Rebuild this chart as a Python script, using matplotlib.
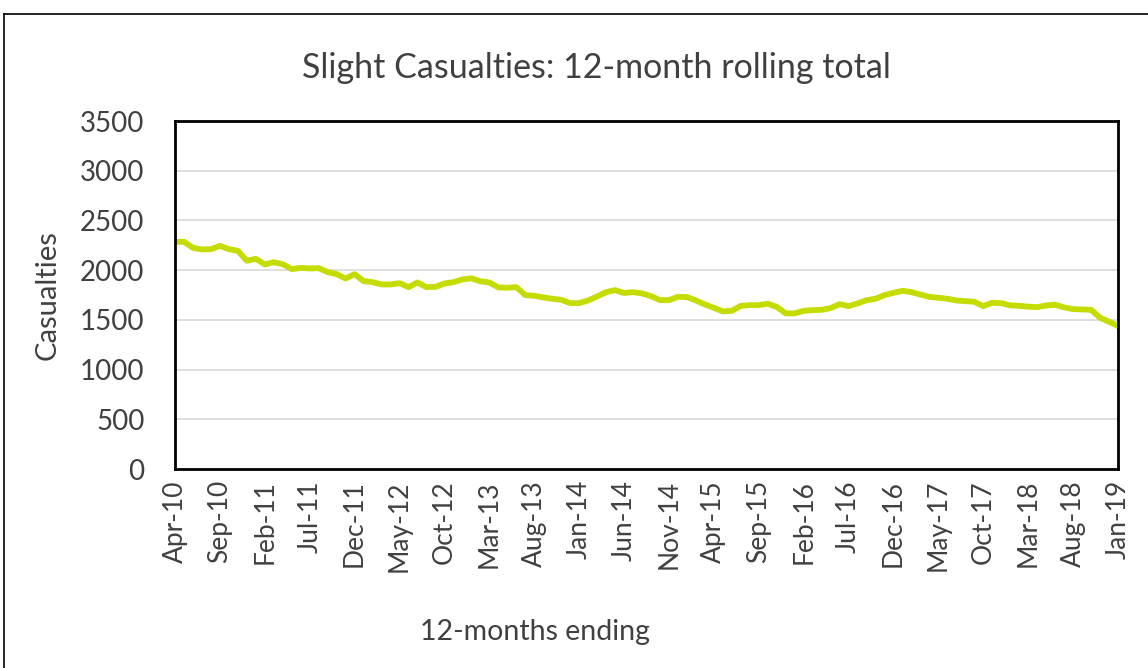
import numpy as np
import matplotlib
matplotlib.use('Agg')
import matplotlib.pyplot as plt
from matplotlib.lines import Line2D

plt.rcParams['font.family'] = ['Lato', 'DejaVu Sans']

# 12-month rolling totals, monthly from Apr-10 to Jan-19
casualties = [
    2285, 2285, 2224, 2208, 2211, 2244, 2211, 2194, 2094, 2114,
    2057, 2080, 2060, 2010, 2023, 2017, 2020, 1980, 1960, 1916,
    1960, 1889, 1879, 1856, 1856, 1869, 1829, 1876, 1829, 1832,
    1866, 1879, 1906, 1918, 1888, 1876, 1826, 1823, 1829, 1749,
    1742, 1726, 1712, 1702, 1668, 1668, 1695, 1735, 1779, 1799,
    1770, 1779, 1766, 1739, 1698, 1698, 1732, 1729, 1695, 1655,
    1621, 1585, 1591, 1641, 1648, 1648, 1662, 1630, 1565, 1565,
    1591, 1598, 1601, 1618, 1658, 1638, 1665, 1698, 1712, 1749,
    1772, 1792, 1779, 1754, 1731, 1722, 1712, 1695, 1688, 1682,
    1638, 1672, 1668, 1645, 1642, 1632, 1628, 1645, 1652, 1625,
    1608, 1605, 1601, 1521, 1481, 1437,
]
tick_labels = ['Apr-10', 'Sep-10', 'Feb-11', 'Jul-11', 'Dec-11', 'May-12',
               'Oct-12', 'Mar-13', 'Aug-13', 'Jan-14', 'Jun-14', 'Nov-14',
               'Apr-15', 'Sep-15', 'Feb-16', 'Jul-16', 'Dec-16', 'May-17',
               'Oct-17', 'Mar-18', 'Aug-18', 'Jan-19']

txt = '#404040'
x = np.arange(len(casualties))

fig = plt.figure(figsize=(11.48, 6.68), dpi=100)
ax = fig.add_axes([175/1148, 1 - 469/668, (1118 - 175)/1148, (469 - 121)/668])

ax.plot(x, casualties, color='#C5DC00', lw=4.2, solid_joinstyle='round')

ax.set_xlim(0, len(casualties) - 1)
ax.set_ylim(0, 3500)
ax.set_yticks(np.arange(0, 3501, 500))
ax.set_xticks(x[::5])
ax.set_xticklabels(tick_labels, rotation=90, fontsize=19, color=txt)
ax.tick_params(axis='y', labelsize=20, labelcolor=txt, length=0, pad=22)
ax.tick_params(axis='x', length=0, pad=8)
ax.grid(axis='y', color='#d9d9d9', lw=1.2)
ax.set_axisbelow(True)
for s in ax.spines.values():
    s.set_color('black')
    s.set_linewidth(2)

ax.set_ylabel('Casualties', fontsize=21, color=txt, labelpad=14)
fig.text(596/1148, 1 - 68/668, 'Slight Casualties: 12-month rolling total',
         ha='center', va='center', fontsize=24.5, color=txt)
fig.text(535/1148, 1 - 632/668, '12-months ending',
         ha='center', va='center', fontsize=20.5, color=txt)

# outer chart frame
fig.add_artist(Line2D([4/1148, 4/1148], [0, 1 - 14/668], color='black', lw=1.2,
                      transform=fig.transFigure))
fig.add_artist(Line2D([4/1148, 1], [1 - 14/668, 1 - 14/668], color='black', lw=1.2,
                      transform=fig.transFigure))

fig.savefig('out.png', dpi=100)
